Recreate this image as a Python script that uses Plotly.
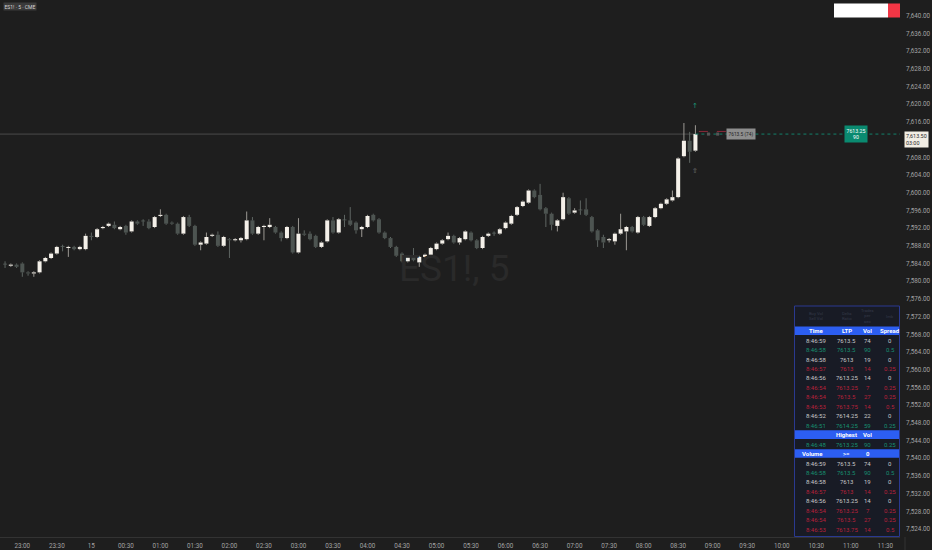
import plotly.graph_objects as go

# ---------------- data ----------------
bar_minutes = [5 * i for i in range(-3, 118)]  # minutes after 23:00, 5-min bars (22:45 .. 08:45)

opens = [7583.75, 7583.5, 7583.75, 7584.0, 7582.0, 7581.75, 7582.0, 7584.5, 7585.25, 7586.25,
         7587.75, 7587.5, 7587.75, 7587.25, 7587.25, 7590.25, 7590.0, 7592.0, 7592.5, 7592.75,
         7591.75, 7592.5, 7591.25, 7593.5, 7593.5, 7593.5, 7592.25, 7594.75, 7595.0, 7593.25,
         7593.0, 7590.75, 7594.5, 7592.5, 7588.25, 7588.5, 7590.25, 7590.5, 7588.0, 7589.5,
         7589.25, 7589.25, 7589.5, 7593.75, 7590.75, 7592.25, 7592.25, 7592.25, 7591.0, 7589.75,
         7592.25, 7586.5, 7590.75, 7590.75, 7590.25, 7587.75, 7589.0, 7593.75, 7591.0, 7593.75,
         7593.75, 7593.25, 7591.75, 7592.25, 7595.0, 7594.0, 7591.0, 7589.75, 7587.75, 7586.25,
         7584.5, 7585.75, 7584.25, 7585.5, 7586.0, 7587.25, 7588.5, 7589.5, 7590.25, 7588.75,
         7589.5, 7591.0, 7589.25, 7587.5, 7590.25, 7590.75, 7590.75, 7592.0, 7593.0, 7595.0,
         7597.0, 7597.75, 7600.5, 7599.5, 7596.5, 7595.25, 7592.5, 7594.0, 7598.75, 7595.5,
         7596.0, 7596.25, 7594.5, 7591.5, 7590.0, 7589.25, 7589.0, 7590.75, 7591.25, 7592.25,
         7591.0, 7594.5, 7592.5, 7594.5, 7596.5, 7597.5, 7598.25, 7599.0, 7608.25, 7611.75,
         7609.5]
highs = [7584.5, 7584.0, 7584.0, 7584.25, 7582.25, 7582.25, 7584.75, 7585.5, 7586.5, 7588.0,
         7588.25, 7588.0, 7588.0, 7588.0, 7590.75, 7591.0, 7592.0, 7592.5, 7593.25, 7593.5,
         7592.5, 7592.75, 7593.75, 7593.75, 7594.0, 7594.0, 7594.75, 7596.25, 7595.25, 7593.5,
         7593.25, 7594.75, 7595.0, 7592.75, 7589.0, 7591.0, 7590.75, 7591.25, 7590.25, 7589.75,
         7589.75, 7590.0, 7595.75, 7594.5, 7592.5, 7592.75, 7594.25, 7592.5, 7591.25, 7592.5,
         7592.5, 7594.25, 7591.5, 7591.25, 7590.5, 7589.0, 7594.0, 7594.5, 7594.25, 7595.0,
         7596.75, 7593.5, 7592.5, 7595.0, 7595.25, 7594.25, 7591.25, 7590.0, 7588.0, 7586.5,
         7585.75, 7587.5, 7585.75, 7586.25, 7587.75, 7588.75, 7589.5, 7591.0, 7590.5, 7590.0,
         7591.5, 7591.25, 7589.5, 7590.25, 7591.0, 7591.25, 7592.0, 7593.5, 7595.0, 7597.0,
         7598.25, 7600.75, 7600.75, 7602.0, 7596.75, 7595.5, 7594.0, 7600.0, 7599.0, 7596.5,
         7598.25, 7598.75, 7594.75, 7591.75, 7590.5, 7589.75, 7591.0, 7595.25, 7592.5, 7592.5,
         7594.75, 7594.75, 7594.75, 7596.75, 7597.75, 7598.75, 7600.5, 7608.0, 7615.75, 7613.75,
         7615.25]
lows = [7583.0, 7583.25, 7583.0, 7581.0, 7581.25, 7581.0, 7581.75, 7584.25, 7585.0, 7586.0,
        7586.75, 7585.5, 7587.0, 7587.0, 7587.0, 7589.25, 7589.75, 7591.75, 7592.25, 7591.75,
        7591.5, 7590.5, 7591.0, 7592.75, 7592.5, 7591.75, 7592.0, 7594.5, 7592.75, 7592.75,
        7590.5, 7590.5, 7592.25, 7588.0, 7587.0, 7588.25, 7590.0, 7587.75, 7587.75, 7585.25,
        7589.0, 7588.75, 7589.25, 7590.5, 7590.5, 7589.25, 7592.0, 7590.75, 7589.0, 7589.5,
        7586.25, 7586.25, 7590.25, 7589.25, 7587.5, 7587.5, 7588.75, 7590.75, 7590.75, 7592.25,
        7592.5, 7590.75, 7590.0, 7592.0, 7593.5, 7590.75, 7589.5, 7587.5, 7585.5, 7584.25,
        7584.25, 7584.5, 7583.25, 7585.25, 7585.75, 7587.0, 7588.25, 7589.25, 7588.5, 7588.25,
        7589.25, 7589.0, 7587.25, 7587.25, 7590.0, 7590.25, 7590.5, 7591.75, 7592.75, 7594.75,
        7596.75, 7597.5, 7598.75, 7596.0, 7592.25, 7591.5, 7591.25, 7593.75, 7595.0, 7595.25,
        7595.0, 7594.75, 7591.0, 7587.75, 7587.5, 7588.75, 7588.25, 7590.5, 7587.0, 7591.0,
        7590.75, 7592.5, 7592.25, 7594.25, 7596.25, 7597.25, 7598.0, 7598.75, 7608.0, 7606.75,
        7609.25]
closes = [7583.75, 7583.75, 7583.25, 7582.0, 7581.75, 7582.0, 7584.5, 7585.25, 7586.25, 7587.75,
          7587.75, 7587.75, 7587.25, 7587.75, 7590.25, 7590.0, 7591.75, 7592.25, 7593.0, 7592.0,
          7592.25, 7591.0, 7593.5, 7593.0, 7593.5, 7592.0, 7594.5, 7595.0, 7593.0, 7593.0,
          7590.75, 7594.5, 7592.5, 7588.25, 7588.75, 7590.0, 7590.5, 7588.0, 7590.0, 7589.25,
          7589.5, 7589.75, 7593.75, 7590.75, 7592.25, 7592.5, 7592.75, 7591.0, 7589.75, 7592.25,
          7586.5, 7590.75, 7590.5, 7589.5, 7587.75, 7588.75, 7593.75, 7591.0, 7594.0, 7593.75,
          7592.75, 7591.5, 7592.25, 7594.75, 7593.75, 7591.0, 7589.75, 7587.75, 7585.75, 7584.5,
          7585.5, 7584.75, 7585.5, 7586.0, 7587.5, 7588.5, 7589.25, 7590.25, 7588.75, 7589.75,
          7591.25, 7589.25, 7587.5, 7590.0, 7590.75, 7590.75, 7591.75, 7593.25, 7594.75, 7596.75,
          7598.0, 7600.5, 7599.0, 7596.25, 7595.25, 7592.75, 7593.75, 7599.0, 7595.25, 7596.0,
          7596.0, 7595.0, 7591.25, 7589.25, 7588.75, 7589.5, 7590.75, 7591.75, 7592.25, 7591.25,
          7594.5, 7592.75, 7594.5, 7596.5, 7597.5, 7598.5, 7599.0, 7607.75, 7611.75, 7609.25,
          7613.25]

x_tick_minutes = [30 * i for i in range(26)]
x_tick_labels = ["23:00", "23:30", "15", "00:30", "01:00", "01:30", "02:00", "02:30", "03:00",
                 "03:30", "04:00", "04:30", "05:00", "05:30", "06:00", "06:30", "07:00", "07:30",
                 "08:00", "08:30", "09:00", "09:30", "10:00", "10:30", "11:00", "11:30"]
y_tick_values = [7524 + 4 * i for i in range(31) if 7524 + 4 * i != 7612]

last_price = 7613.25
last_price_label = "7,613.50"
countdown_label = "03:00"
poc_label = "7613.5 (74)"
high_vol_price = "7613.25"
high_vol_size = "90"

# order-flow table
tape_time = ["8:46:59", "8:46:58", "8:46:58", "8:46:57", "8:46:56", "8:46:54", "8:46:54", "8:46:53", "8:46:52", "8:46:51"]
tape_ltp = ["7613.5", "7613.5", "7613", "7613", "7613.25", "7613.25", "7613.5", "7613.75", "7614.25", "7614.25"]
tape_vol = ["74", "90", "19", "14", "14", "7", "27", "14", "22", "59"]
tape_spread = ["0", "0.5", "0", "0.25", "0", "0.25", "0.25", "0.5", "0", "0.25"]
tape_side = ["n", "b", "n", "s", "n", "s", "s", "s", "n", "b"]
highest_row = ["8:46:48", "7613.25", "90", "0.25"]
highest_side = "b"
filter_row = ["Volume", ">=", "0"]
header_row = ["Time", "LTP", "Vol", "Spread"]
faint_header = ["Buy Vol<br>Sell Vol", "Delta<br>Ratio", "Trades<br>per<br>sec", "Imb"]

# ---------------- figure ----------------
BG = "#1e1e1e"
W, H = 932, 550
ML, MR, MT, MB = 0, 32, 0, 13
PW, PH = W - ML - MR, H - MT - MB
UP_BODY, DN_BODY = "#f4f0e9", "#4d5451"
UP_WICK, DN_WICK = "#9b9893", "#5f6663"

def px_x(px):
    return px / PW

def px_y(py):
    return 1 - py / PH

fig = go.Figure()

# candles: bodies as bars, wicks as line segments (above and below body)
body_lo = [min(o, c) for o, c in zip(opens, closes)]
body_h = [max(abs(c - o), 0.22) for o, c in zip(opens, closes)]
is_up = [c > o for o, c in zip(opens, closes)]
for up, wc in ((True, UP_WICK), (False, DN_WICK)):
    wx, wy = [], []
    for t, o, h, l, c, u in zip(bar_minutes, opens, highs, lows, closes, is_up):
        if u != up:
            continue
        top, bot = max(o, c), min(o, c)
        wx += [t, t, None, t, t, None]
        wy += [h, top, None, bot, l, None]
    fig.add_trace(go.Scatter(x=wx, y=wy, mode="lines", line=dict(color=wc, width=1),
                             hoverinfo="skip", showlegend=False))
fig.add_trace(go.Bar(x=bar_minutes, y=body_h, base=body_lo, width=3.5,
                     marker=dict(color=[UP_BODY if u else DN_BODY for u in is_up], line=dict(width=0)),
                     hoverinfo="skip", showlegend=False))

x0, x1 = -19.4, 762.8
last_x = bar_minutes[-1]

shapes = []
shapes.append(dict(type="line", xref="x", yref="y", x0=x0, x1=last_x, y0=last_price, y1=last_price,
                   layer="below", line=dict(color="#4a4a4a", width=1)))
shapes.append(dict(type="line", xref="x", yref="y", x0=last_x, x1=x1, y0=last_price, y1=last_price,
                   line=dict(color="#14806a", width=1, dash="dot")))
shapes.append(dict(type="line", xref="x", yref="y", x0=last_x + 3, x1=last_x + 52, y0=last_price + 0.6, y1=last_price + 0.6,
                   line=dict(color="#8a2a3a", width=1, dash="dash")))
for dx in (10, 18):
    shapes.append(dict(type="rect", xref="x", yref="y", x0=last_x + dx, x1=last_x + dx + 2.6,
                       y0=last_price - 0.35, y1=last_price + 0.35,
                       fillcolor="#555555", line=dict(width=0)))
shapes.append(dict(type="rect", xref="paper", yref="paper", x0=px_x(834), x1=px_x(888), y0=px_y(17.5), y1=px_y(3.5),
                   fillcolor="#ffffff", line=dict(width=0)))
shapes.append(dict(type="rect", xref="paper", yref="paper", x0=px_x(888), x1=px_x(900), y0=px_y(17.5), y1=px_y(3.5),
                   fillcolor="#f23645", line=dict(width=0)))
shapes.append(dict(type="line", xref="paper", yref="paper", x0=px_x(905), x1=px_x(905), y0=0, y1=px_y(H),
                   line=dict(color="#333333", width=1)))

# ---- order-flow table ----
T_L, T_R, T_T, T_B = 794.5, 899.5, 306, 536.5
row0, row_h = 330.7, 9.45
col_x = [816, 846.7, 867.7, 890]
side_color = {"n": "#c8c8c8", "b": "#17906f", "s": "#b8213a"}

shapes.append(dict(type="rect", xref="paper", yref="paper", x0=px_x(T_L), x1=px_x(T_R), y0=px_y(T_B), y1=px_y(T_T),
                   fillcolor="#181b25", line=dict(color="#2a3990", width=1)))

def band(j):
    c = row0 + row_h * j
    shapes.append(dict(type="rect", xref="paper", yref="paper", x0=px_x(T_L + 0.5), x1=px_x(T_R - 0.5),
                       y0=px_y(c + 4.3), y1=px_y(c - 4.3), fillcolor="#2c5ef2", line=dict(width=0)))

band(0)
band(11)
band(13)

annotations = []

def cell(text, px, py, color, size=6.0, bold=False):
    t = f"<b>{text}</b>" if bold else text
    annotations.append(dict(text=t, xref="paper", yref="paper", x=px_x(px), y=px_y(py),
                            xanchor="center", yanchor="middle", showarrow=False,
                            font=dict(size=size, color=color, family="Roboto")))

for c, txt in enumerate(faint_header):
    annotations.append(dict(text=txt, xref="paper", yref="paper", x=px_x(col_x[c]), y=px_y(316),
                            xanchor="center", yanchor="middle", showarrow=False,
                            font=dict(size=4.2, color="#343948", family="Roboto")))

for c, txt in enumerate(header_row):
    cell(txt, col_x[c], row0, "#ffffff", bold=True)

for r in range(len(tape_time)):
    py = row0 + row_h * (r + 1)
    col = side_color[tape_side[r]]
    for c, val in enumerate([tape_time[r], tape_ltp[r], tape_vol[r], tape_spread[r]]):
        cell(val, col_x[c], py, col)

cell("Highest", col_x[1], row0 + row_h * 11, "#ffffff", bold=True)
cell("Vol", col_x[2], row0 + row_h * 11, "#ffffff", bold=True)
for c, val in enumerate(highest_row):
    cell(val, col_x[c], row0 + row_h * 12, side_color[highest_side])
for c, val in enumerate(filter_row):
    cell(val, [812, col_x[1], col_x[2]][c], row0 + row_h * 13, "#ffffff", bold=True)
for r in range(8):
    py = row0 + row_h * (r + 14)
    col = side_color[tape_side[r]]
    for c, val in enumerate([tape_time[r], tape_ltp[r], tape_vol[r], tape_spread[r]]):
        cell(val, col_x[c], py, col)

# ---- other labels ----
annotations.append(dict(text="ES1! · 5 · CME", xref="paper", yref="paper", x=px_x(3), y=px_y(6.5),
                        xanchor="left", yanchor="middle", showarrow=False, bgcolor="#3a3a3a",
                        borderpad=0.5, font=dict(size=5, color="#d6d6d6", family="Roboto")))
annotations.append(dict(text="ES1!, 5", xref="paper", yref="paper", x=0.505, y=0.5,
                        xanchor="center", yanchor="middle", showarrow=False,
                        font=dict(size=37, color="#2a2a2a", family="Roboto")))
annotations.append(dict(text=poc_label, xref="x", yref="y", x=last_x + 27, y=last_price,
                        xanchor="left", yanchor="middle", showarrow=False, bgcolor="#8e8e8e",
                        borderpad=1.5, font=dict(size=4.8, color="#1e1e1e", family="Roboto")))
annotations.append(dict(text=f"{high_vol_price}<br>{high_vol_size}", xref="x", yref="y", x=last_x + 139.5, y=last_price,
                        xanchor="center", yanchor="middle", showarrow=False, bgcolor="#0a8a70",
                        borderpad=1.5, font=dict(size=5.2, color="#ffffff", family="Roboto")))
annotations.append(dict(text=f"{last_price_label}<br>{countdown_label}", xref="paper", yref="y",
                        x=px_x(904), y=last_price, xanchor="left", yanchor="top", yshift=3,
                        showarrow=False, bgcolor="#f1ede4", borderpad=1, align="left",
                        font=dict(size=5.4, color="#2a2a2a", family="Roboto")))
annotations.append(dict(text="↑", xref="x", yref="y", x=last_x, y=7619.5, showarrow=False,
                        font=dict(size=7, color="#1c9c78", family="DejaVu Sans")))
annotations.append(dict(text="⇧", xref="x", yref="y", x=last_x, y=7605.0, showarrow=False,
                        font=dict(size=7, color="#7a7a7a", family="DejaVu Sans")))

fig.update_layout(
    width=W, height=H,
    margin=dict(l=ML, r=MR, t=MT, b=MB),
    paper_bgcolor=BG, plot_bgcolor=BG,
    showlegend=False, hovermode=False, barmode="overlay",
    shapes=shapes, annotations=annotations,
    font=dict(family="Roboto", color="#a3a3a3"),
    xaxis=dict(range=[x0, x1], tickvals=x_tick_minutes, ticktext=x_tick_labels,
               showgrid=False, zeroline=False,
               showline=True, linecolor="#333333", linewidth=1, ticks="",
               ticklabelstandoff=2, tickfont=dict(size=6.3, color="#a3a3a3")),
    yaxis=dict(range=[7522.2, 7643.55], side="right", tickvals=y_tick_values, tickformat=",.2f",
               showgrid=False, zeroline=False, ticks="", ticklabelstandoff=5,
               tickfont=dict(size=6.3, color="#a3a3a3")),
)

fig.write_html("out.html", config={"displayModeBar": False, "staticPlot": True},
               post_script="document.body.style.margin='0';document.body.style.overflow='hidden';document.body.style.background='#1e1e1e';")
